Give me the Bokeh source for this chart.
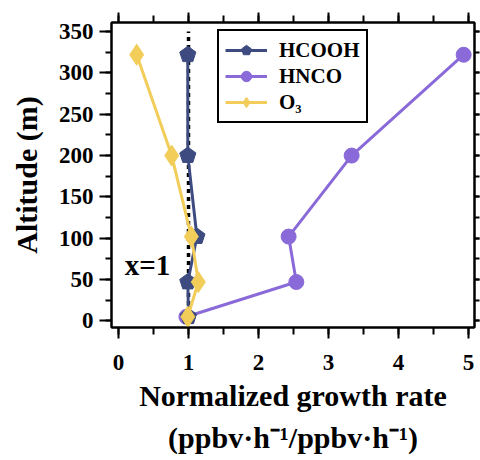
from bokeh.plotting import figure
from bokeh.models import (ColumnDataSource, LinearAxis, SingleIntervalTicker, Range1d,
                          Legend, LegendItem, Label, CustomJSTickFormatter)
from bokeh.embed import file_html
from bokeh.resources import INLINE

# ---- data ----
altitude = [5, 47, 102, 200, 322]
hcooh = [1.00, 0.99, 1.12, 0.99, 0.99]
hnco = [0.97, 2.54, 2.43, 3.33, 4.93]
o3 = [0.99, 1.14, 1.04, 0.76, 0.26]
ref_x = [1, 1]
ref_y = [0, 350]
series_names = ["HCOOH", "HNCO", "O₃"]

C_HCOOH = "#3d4b80"
C_HNCO = "#8a6ad8"
C_O3 = "#f2cd5a"
FONT = "Liberation Serif"

# frame geometry
FL, FR, FT, FB = 111, 474, 22, 327
X0, X1 = -0.1, 5.085
Y0, Y1 = -8, 361

p = figure(frame_width=FR - FL, frame_height=FB - FT,
           min_border_left=FL, min_border_right=480 - FR,
           min_border_top=FT, min_border_bottom=460 - FB,
           x_range=Range1d(X0, X1), y_range=Range1d(Y0, Y1),
           output_backend="svg", toolbar_location=None,
           x_axis_location=None, y_axis_location=None)
p.grid.visible = False
p.outline_line_color = "black"
p.outline_line_width = 2
p.outline_line_alpha = 1
p.background_fill_color = "white"
p.border_fill_color = "white"

blank = CustomJSTickFormatter(code="return ''")


def style_axis(ax, major_out, minor_out, labels=True):
    ax.major_tick_in = 0
    ax.minor_tick_in = 0
    ax.major_tick_out = major_out
    ax.minor_tick_out = minor_out
    ax.axis_line_width = 2
    ax.major_tick_line_width = 2
    ax.minor_tick_line_width = 2
    ax.axis_line_color = "black"
    ax.major_tick_line_color = "black"
    ax.minor_tick_line_color = "black"
    ax.major_label_text_font = FONT
    ax.major_label_text_font_style = "bold"
    ax.major_label_text_color = "black"
    ax.major_label_text_font_size = "23px"
    if not labels:
        ax.formatter = blank
        ax.major_label_standoff = 0


def style_title(ax, size="30px"):
    ax.axis_label_text_font = FONT
    ax.axis_label_text_font_style = "bold"
    ax.axis_label_text_font_size = size
    ax.axis_label_text_color = "black"


xb = LinearAxis(ticker=SingleIntervalTicker(interval=1, num_minor_ticks=2))
style_axis(xb, 11, 7)
xb.major_label_standoff = 16
xb.axis_label = "Normalized growth rate"
style_title(xb)
xb.axis_label_standoff = 6
p.add_layout(xb, "below")

# second line of the x-axis title
xb2 = LinearAxis(ticker=SingleIntervalTicker(interval=1, num_minor_ticks=0))
style_axis(xb2, 0, 0, labels=False)
xb2.axis_line_color = None
xb2.major_tick_line_color = None
xb2.minor_tick_line_color = None
xb2.axis_label = "(ppbv·h⁻¹/ppbv·h⁻¹)"
style_title(xb2)
xb2.axis_label_standoff = 6
p.add_layout(xb2, "below")

yl = LinearAxis(ticker=SingleIntervalTicker(interval=50, num_minor_ticks=2))
style_axis(yl, 12, 6)
yl.major_label_standoff = 6
yl.axis_label = "Altitude (m)"
style_title(yl)
yl.axis_label_standoff = 13
p.add_layout(yl, "left")

xt = LinearAxis(ticker=SingleIntervalTicker(interval=1, num_minor_ticks=2))
style_axis(xt, 10, 7, labels=False)
p.add_layout(xt, "above")

yr = LinearAxis(ticker=SingleIntervalTicker(interval=50, num_minor_ticks=2))
style_axis(yr, 5, 5, labels=False)
p.add_layout(yr, "right")

# reference line x = 1
p.line(ref_x, ref_y, line_color="black", line_width=3.5, line_dash="4 4")

src_hnco = ColumnDataSource(dict(x=hnco, y=altitude))
src_hcooh = ColumnDataSource(dict(x=hcooh, y=altitude))
src_o3 = ColumnDataSource(dict(x=o3, y=altitude))

l_hnco = p.line("x", "y", source=src_hnco, line_color=C_HNCO, line_width=3)
m_hnco = p.scatter("x", "y", source=src_hnco, marker="circle", size=15,
                   fill_color=C_HNCO, line_color=C_HNCO)

l_hcooh = p.line("x", "y", source=src_hcooh, line_color=C_HCOOH, line_width=3)
m_hcooh = p.ngon("x", "y", source=src_hcooh, radius=8.5, radius_units="screen", n=5,
                 angle=0, fill_color=C_HCOOH, line_color=C_HCOOH)

l_o3 = p.line("x", "y", source=src_o3, line_color=C_O3, line_width=3)
m_o3 = p.scatter("x", "y", source=src_o3, marker="diamond", size=21,
                 fill_color=C_O3, line_color=C_O3)

legend = Legend(items=[
    LegendItem(label=series_names[0], renderers=[l_hcooh, m_hcooh]),
    LegendItem(label=series_names[1], renderers=[l_hnco, m_hnco]),
    LegendItem(label=series_names[2], renderers=[l_o3, m_o3]),
], location=(217 - FL, FB - 123))
legend.border_line_color = "black"
legend.border_line_alpha = 1
legend.border_line_width = 2
legend.background_fill_color = "white"
legend.background_fill_alpha = 1
legend.label_text_font = FONT
legend.label_text_font_style = "bold"
legend.label_text_font_size = "21px"
legend.label_text_color = "black"
legend.glyph_width = 42
legend.glyph_height = 26
legend.label_height = 20
legend.label_standoff = 12
legend.spacing = 0
legend.padding = 6
legend.margin = 0
p.add_layout(legend, "center")


def dx(px):
    return X0 + (px - FL) * (X1 - X0) / (FR - FL)


def dy(py):
    return Y0 + (FB - py) * (Y1 - Y0) / (FB - FT)


p.add_layout(Label(x=dx(147), y=dy(264), text="x=1", text_font=FONT,
                   text_font_style="bold", text_font_size="29px", text_align="center",
                   text_baseline="middle", text_color="black"))

open("out.html", "w").write(file_html(p, INLINE))
